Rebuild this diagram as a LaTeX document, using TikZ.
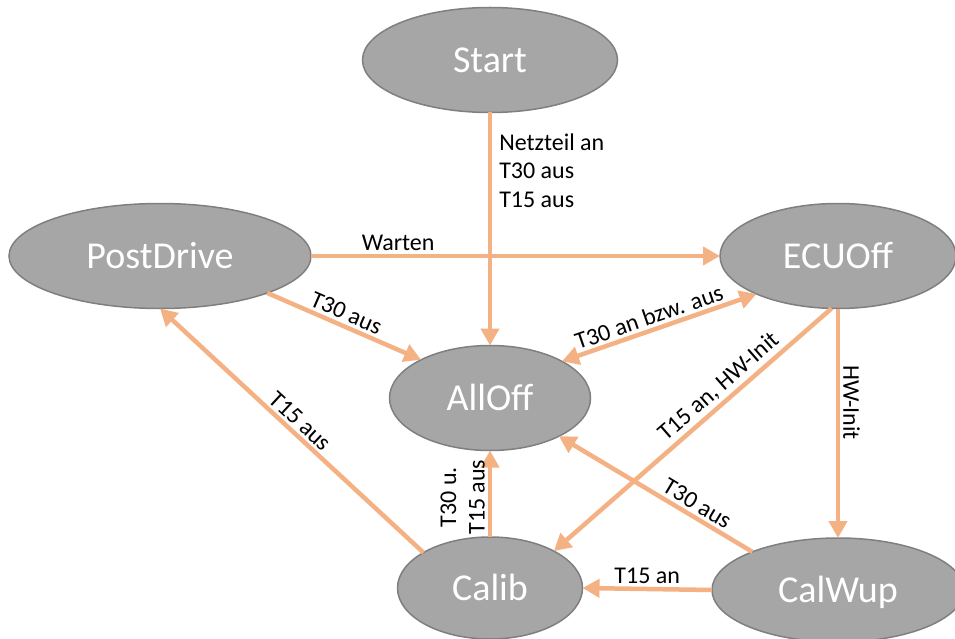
\documentclass[tikz,border=0pt]{standalone}
\usepackage{fontspec}
\setmainfont{Carlito}
\usetikzlibrary{arrows.meta, shapes.geometric}
\definecolor{stategray}{HTML}{A6A6A6}
\definecolor{stateedge}{HTML}{7F7F7F}
\definecolor{transorange}{HTML}{F4B183}

\begin{document}
\begin{tikzpicture}[x=1pt, y=-1pt,
  state/.style={ellipse, fill=stategray, draw=stateedge, line width=1.5pt,
    inner sep=0pt, outer sep=0pt, text=white, text height=24.5pt, text depth=0pt,
    font=\fontsize{38}{44}\selectfont},
  trans/.style={draw=transorange, line width=4.5pt, -{Triangle[length=17pt, width=18pt]}},
  lbl/.style={font=\fontsize{24}{28.5}\selectfont, text=black, inner sep=3pt}
]
\useasboundingbox (0,0) rectangle (955,639);

% states
\node[state, minimum width=255pt, minimum height=105pt] (start)  at (490,60)  {Start};
\node[state, minimum width=302pt, minimum height=105pt] (pd)     at (160,256) {PostDrive};
\node[state, minimum width=236pt, minimum height=105pt] (ecu)    at (838,256) {ECUOff};
\node[state, minimum width=201pt, minimum height=105pt] (alloff) at (490,398) {AllOff};
\node[state, minimum width=185pt, minimum height=102pt] (calib)  at (490,588) {Calib};
\node[state, minimum width=252pt, minimum height=104pt] (calwup) at (838,590) {CalWup};

% transitions
\draw[trans] (start.south) -- node[lbl, anchor=west, pos=0.25, align=left, xshift=4pt]
  {Netzteil an\\T30 aus\\T15 aus} (alloff.north);
\draw[trans] (pd.east) -- node[lbl, above, pos=0.213] {Warten} (ecu.west);
\draw[trans] (pd.-19) -- node[lbl, sloped, above, pos=0.48] {T30 aus} (alloff.151.5);
\draw[trans] (calib.152) -- node[lbl, sloped, above, pos=0.5] {T15 aus} (pd.south);
\draw[trans, {Triangle[length=17pt, width=18pt]}-{Triangle[length=17pt, width=18pt]}]
  (alloff.27) -- node[lbl, sloped, above, pos=0.47] {T30 an bzw. aus} (ecu.205);
\draw[trans] (ecu.-97) -- node[lbl, sloped, above, pos=0.37] {T15 an, HW-Init} (calib.30);
\draw[trans] (ecu.south) -- node[lbl, sloped, above, pos=0.41] {HW-Init} (calwup.north);
\draw[trans] (calwup.156.6) -- node[lbl, sloped, above, pos=0.32] {T30 aus} (alloff.-29);
\draw[trans] (calwup.west) -- node[lbl, above, pos=0.5] {T15 an} (calib.east);
\draw[trans] (calib.north) -- node[lbl, sloped, above, pos=0.46, align=center]
  {T30 u.\\T15 aus} (alloff.south);
\end{tikzpicture}
\end{document}
